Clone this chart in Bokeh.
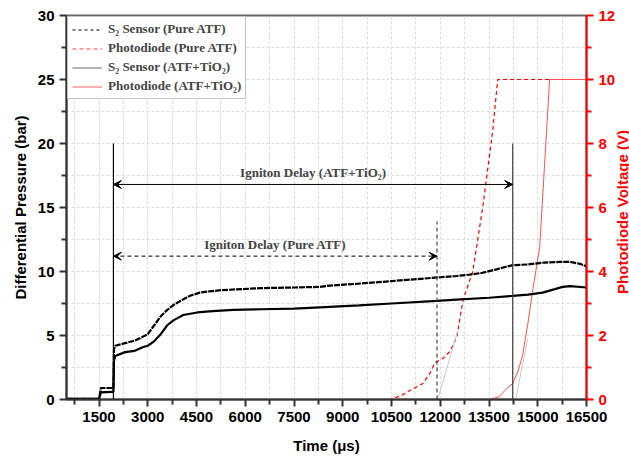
from bokeh.plotting import figure
from bokeh.layouts import row
from bokeh.models import (Range1d, LinearAxis, FixedTicker, Legend, LegendItem,
                          Arrow, VeeHead, Label, ColumnDataSource, Div)
from bokeh.embed import file_html
from bokeh.resources import INLINE

# ---------------- data ----------------
x_ticks = [1500, 3000, 4500, 6000, 7500, 9000, 10500, 12000, 13500, 15000, 16500]
x_minor = [750, 2250, 3750, 5250, 6750, 8250, 9750, 11250, 12750, 14250, 15750]
y_ticks = [0, 5, 10, 15, 20, 25, 30]
y_minor = [2.5, 7.5, 12.5, 17.5, 22.5, 27.5]
v_ticks = [0, 2, 4, 6, 8, 10, 12]
v_minor = [1, 3, 5, 7, 9, 11]

t_pure = [500, 1000, 1500, 1560, 1900, 1944, 1960, 2000, 2300, 2600, 2850, 3000, 3200,
          3400, 3600, 3800, 4000, 4300, 4600, 4900, 5300, 5700, 6500, 7500, 8300, 8600,
          9500, 10500, 11500, 12000, 12500, 12900, 13300, 13700, 14000, 14229, 14700,
          15200, 15700, 16000, 16300, 16500]
p_pure = [0.05, 0.05, 0.05, 0.9, 0.9, 0.9, 3.9, 4.2, 4.4, 4.6, 4.9, 5.1, 5.8,
          6.5, 7.0, 7.4, 7.7, 8.1, 8.35, 8.45, 8.55, 8.6, 8.7, 8.75, 8.8, 8.9,
          9.05, 9.25, 9.45, 9.55, 9.65, 9.75, 9.9, 10.15, 10.35, 10.5, 10.55,
          10.7, 10.75, 10.75, 10.6, 10.4]

t_tio2 = [500, 1500, 1560, 1900, 1944, 1960, 2000, 2300, 2600, 2865, 3000, 3172, 3400,
          3600, 3800, 4093, 4523, 5000, 5629, 6500, 7500, 8300, 9500, 10500, 11894,
          12500, 13500, 14229, 14700, 15150, 15500, 15764, 16000, 16500]
p_tio2 = [0.05, 0.05, 0.55, 0.6, 0.6, 3.0, 3.4, 3.7, 3.8, 4.1, 4.2, 4.5, 5.1,
          5.8, 6.2, 6.6, 6.8, 6.9, 7.0, 7.05, 7.1, 7.2, 7.35, 7.5, 7.7,
          7.8, 7.95, 8.1, 8.2, 8.35, 8.6, 8.8, 8.85, 8.75]

t_pd_pure = [500, 10450, 10800, 11065, 11465, 11700, 11833, 12079, 12300, 12508,
             12700, 13000, 13307, 13614, 13768, 16500]
v_pd_pure = [0, 0, 0.12, 0.28, 0.5, 0.85, 1.15, 1.28, 1.5, 1.95,
             3.1, 4.0, 6.0, 8.4, 10, 10]

t_pd_tio2 = [500, 13500, 13800, 14044, 14229, 14400, 14536, 14700, 14843, 15058,
             15273, 15365, 16500]
v_pd_tio2 = [0, 0, 0.08, 0.34, 0.5, 0.9, 1.4, 2.4, 3.4, 4.75, 8.4, 10, 10]

t_trace1 = [11925, 12540]
v_trace1 = [0, 2.15]
t_trace2 = [14321, 14690]
v_trace2 = [0, 1.9]

ign_start = 1944
ign_pure = 11900
ign_tio2 = 14229
arrow_y_pure = 11.2
arrow_y_tio2 = 16.8
marker_top_tio2 = 20
marker_top_pure = 13.9

legend_labels = ["S\u2082 Sensor (Pure ATF)", "Photodiode (Pure ATF)",
                 "S\u2082 Sensor (ATF+TiO\u2082)", "Photodiode (ATF+TiO\u2082)"]
label_tio2 = "Igniton Delay (ATF+TiO\u2082)"
label_pure = "Igniton Delay (Pure ATF)"
x_title = "Time (\u03bcs)"
y_title = "Differential Pressure (bar)"
v_title = "Photodiode Voltage (V)"

# ---------------- figure ----------------
SERIF = "Liberation Serif"
SANS = "Liberation Sans"
AXC = "#333333"

p = figure(width=618, height=459, output_backend="svg", toolbar_location=None,
           x_range=Range1d(500, 16500), y_range=Range1d(0, 30),
           min_border_left=66, min_border_right=31, min_border_top=15, min_border_bottom=60)
p.extra_y_ranges = {"v": Range1d(0, 12)}

p.outline_line_color = "#666666"
p.outline_line_width = 2

# grids
for g in (p.xgrid, p.ygrid):
    g.grid_line_color = "#dcdcdc"
    g.grid_line_dash = "3 2"
    g.grid_line_width = 1
    g.minor_grid_line_color = "#dcdcdc"
    g.minor_grid_line_dash = "3 2"
    g.minor_grid_line_width = 1

p.xaxis.ticker = FixedTicker(ticks=x_ticks, minor_ticks=x_minor)
p.yaxis.ticker = FixedTicker(ticks=y_ticks, minor_ticks=y_minor)
p.xgrid.ticker = FixedTicker(ticks=x_ticks, minor_ticks=x_minor)
p.ygrid.ticker = FixedTicker(ticks=y_ticks, minor_ticks=y_minor)

for ax in (p.xaxis[0], p.yaxis[0]):
    ax.axis_line_width = 2
    ax.axis_line_color = AXC
    ax.major_tick_line_color = AXC
    ax.minor_tick_line_color = AXC
    ax.major_tick_line_width = 2
    ax.minor_tick_line_width = 2
    ax.major_tick_out = 7
    ax.major_tick_in = 0
    ax.minor_tick_out = 5
    ax.minor_tick_in = 0
    ax.major_label_standoff = 5
    ax.major_label_text_font = SANS
    ax.major_label_text_font_style = "bold"
    ax.major_label_text_font_size = "15px"
    ax.major_label_text_color = "black"
    ax.axis_label_text_font = SANS
    ax.axis_label_text_font_style = "bold"
    ax.axis_label_text_font_size = "15px"
    ax.axis_label_text_color = "black"

p.xaxis.axis_label = x_title
p.yaxis.axis_label = y_title
p.xaxis.axis_label_standoff = 12
p.yaxis.axis_label_standoff = 6

raxis = LinearAxis(y_range_name="v", ticker=FixedTicker(ticks=v_ticks, minor_ticks=v_minor))
raxis.axis_line_color = "red"
raxis.axis_line_width = 2
raxis.major_tick_line_color = "red"
raxis.minor_tick_line_color = "red"
raxis.major_tick_line_width = 2
raxis.minor_tick_line_width = 2
raxis.major_tick_out = 7
raxis.major_tick_in = 0
raxis.minor_tick_out = 5
raxis.minor_tick_in = 0
raxis.major_label_standoff = 5
raxis.major_label_text_font = SANS
raxis.major_label_text_font_style = "bold"
raxis.major_label_text_font_size = "15px"
raxis.major_label_text_color = "red"
p.add_layout(raxis, "right")

# ---------------- data lines ----------------
p.line(t_pd_pure, v_pd_pure, y_range_name="v", line_color="red", line_dash="4 3", line_width=1.2)
p.line(t_pd_tio2, v_pd_tio2, y_range_name="v", line_color="#ff5050", line_width=1)
p.line(t_trace1, v_trace1, y_range_name="v", line_color="#c8c8c8", line_width=1)
p.line(t_trace2, v_trace2, y_range_name="v", line_color="#c8c8c8", line_width=1)
p.line(t_pure, p_pure, line_color="black", line_width=2.2, line_dash="6 1")
p.line(t_tio2, p_tio2, line_color="black", line_width=2.2)

# ignition markers
p.segment(x0=[ign_start, ign_tio2], y0=[0, 0], x1=[ign_start, ign_tio2],
          y1=[marker_top_tio2, marker_top_tio2], line_color=["black", "#444444"], line_width=1.2)
p.segment(x0=[ign_pure], y0=[0], x1=[ign_pure], y1=[marker_top_pure],
          line_color="#444444", line_width=1.2, line_dash="4 3")

p.add_layout(Arrow(x_start=ign_start, y_start=arrow_y_tio2, x_end=ign_tio2, y_end=arrow_y_tio2,
                   start=VeeHead(size=8, fill_color="black", line_color="black", line_width=1),
                   end=VeeHead(size=8, fill_color="black", line_color="black", line_width=1),
                   line_color="black", line_width=1))
p.add_layout(Arrow(x_start=ign_start, y_start=arrow_y_pure, x_end=ign_pure, y_end=arrow_y_pure,
                   start=VeeHead(size=8, fill_color="black", line_color="black", line_width=1),
                   end=VeeHead(size=8, fill_color="black", line_color="black", line_width=1),
                   line_color="black", line_width=1, line_dash="4 3"))

p.add_layout(Label(x=(ign_start + ign_tio2) / 2, y=arrow_y_tio2, text=label_tio2,
                   text_align="center", text_baseline="bottom", y_offset=4,
                   text_font=SERIF, text_font_style="bold", text_font_size="13px"))
p.add_layout(Label(x=(ign_start + ign_pure) / 2, y=arrow_y_pure, text=label_pure,
                   text_align="center", text_baseline="bottom", y_offset=4,
                   text_font=SERIF, text_font_style="bold", text_font_size="13px"))

# ---------------- legend (renderers with points outside the visible range) ----------------
off = ColumnDataSource(data=dict(x=[-2000, -1000], y=[-5, -5]))
r1 = p.line("x", "y", source=off, line_color="black", line_dash="3 3", line_width=1)
r2 = p.line("x", "y", source=off, line_color="#ff8080", line_dash="4 3", line_width=1.5)
r3 = p.line("x", "y", source=off, line_color="#666666", line_width=1)
r4 = p.line("x", "y", source=off, line_color="#ff6060", line_width=1)
legend = Legend(items=[LegendItem(label=legend_labels[i], renderers=[r])
                       for i, r in enumerate([r1, r2, r3, r4])],
                location="top_left")
legend.label_text_font = SERIF
legend.label_text_font_style = "bold"
legend.label_text_font_size = "13px"
legend.label_height = 15
legend.glyph_height = 15
legend.glyph_width = 30
legend.spacing = 3
legend.padding = 4
legend.margin = 1
legend.label_standoff = 6
legend.border_line_color = "#888888"
legend.border_line_width = 1
legend.background_fill_alpha = 1
p.add_layout(legend)

# ---------------- right-axis title (reads bottom-to-top, beside the red axis) ----------------
title_html = (
    '<div style="position:relative;width:11px;height:459px;overflow:visible;">'
    '<div style="position:absolute;left:-10px;top:15px;width:19px;height:384px;'
    'display:flex;align-items:center;justify-content:center;overflow:visible;">'
    '<span style="writing-mode:vertical-rl;transform:rotate(180deg);white-space:nowrap;'
    "font-family:'Liberation Sans';font-weight:bold;font-size:15px;line-height:19px;color:red;\">"
    + v_title + '</span></div></div>'
)
v_label = Div(text=title_html, width=11, height=459, styles={"overflow": "visible"})

layout = row(p, v_label, spacing=0)
open("out.html", "w").write(file_html(layout, INLINE))
